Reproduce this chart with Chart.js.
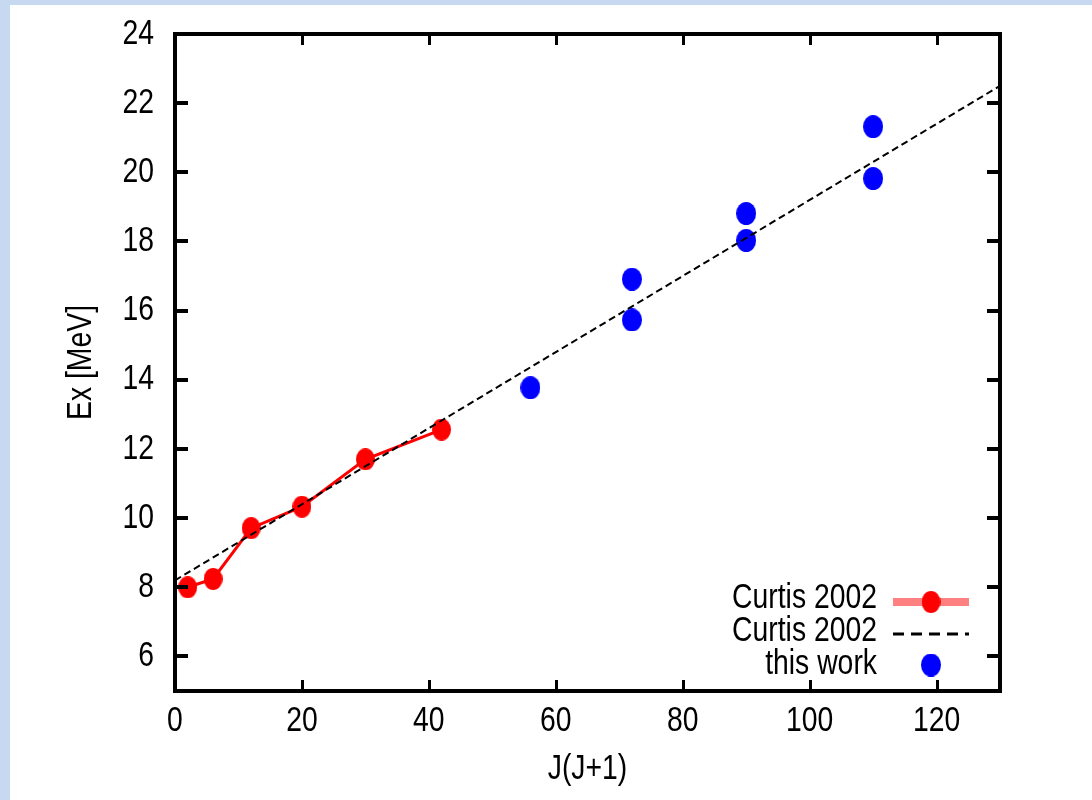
<!DOCTYPE html>
<html>
<head>
<meta charset="utf-8">
<script src="https://cdn.jsdelivr.net/npm/chart.js@4.4.1/dist/chart.umd.min.js"></script>
<style>
  html, body { margin: 0; padding: 0; background: #c6d9f1; }
  #sheet { position: absolute; left: 10px; top: 5px; width: 1082px; height: 795px; background: #ffffff; }
  #wrap { position: absolute; left: 0; top: 0; width: 1092px; height: 800px; }
</style>
</head>
<body>
<div id="sheet"></div>
<div id="wrap"><canvas id="c" width="1092" height="800"></canvas></div>
<script>
// Excitation energy vs J(J+1)
const curtisJJ = [2, 6, 12, 20, 30, 42];
const curtisEx = [8.00, 8.24, 9.71, 10.33, 11.70, 12.56];

const workJJ = [56, 72, 72, 90, 90, 110, 110];
const workEx = [13.77, 16.91, 15.73, 18.81, 18.03, 21.32, 19.82];

// linear rotational fit
const fitJJ = [0, 130];
const fitEx = [8.2, 22.5];

const xTickLabels = [0, 20, 40, 60, 80, 100, 120];
const yTickLabels = [6, 8, 10, 12, 14, 16, 18, 20, 22, 24];
const legendLabels = ['Curtis 2002', 'Curtis 2002', 'this work'];

const FONT = "'Liberation Sans', Arial, sans-serif";
const FONT_SIZE = 35;
const NARROW = 0.81; // horizontal squeeze for a narrow face

const canvas = document.getElementById('c');
const ctx2d = canvas.getContext('2d');
// draw every text run horizontally condensed around its anchor
const plainFillText = ctx2d.fillText.bind(ctx2d);
ctx2d.fillText = function (text, x, y, maxWidth) {
  this.save();
  this.translate(x, y);
  this.scale(NARROW, 1);
  if (maxWidth !== undefined) plainFillText(text, 0, 0, maxWidth / NARROW);
  else plainFillText(text, 0, 0);
  this.restore();
};

function ellipseMarker(w, h, color) {
  const c = document.createElement('canvas');
  c.width = w; c.height = h;
  const g = c.getContext('2d');
  g.fillStyle = color;
  g.beginPath();
  g.ellipse(w / 2, h / 2, w / 2, h / 2, 0, 0, Math.PI * 2);
  g.fill();
  return c;
}
const redDot = ellipseMarker(19, 22, '#ff0000');
const blueDot = ellipseMarker(20, 23, '#0000ff');

const toPoints = (xs, ys) => xs.map((x, i) => ({ x: x, y: ys[i] }));

// frame box with inward mirrored tick marks
const framePlugin = {
  id: 'frame',
  afterDatasetsDraw(chart) {
    const { ctx, chartArea: a, scales } = chart;
    ctx.save();
    ctx.strokeStyle = '#000';
    ctx.lineWidth = 4;
    ctx.strokeRect(a.left, a.top, a.right - a.left, a.bottom - a.top);
    ctx.lineWidth = 4;
    ctx.beginPath();
    yTickLabels.forEach(v => {
      const y = Math.round(scales.y.getPixelForValue(v));
      ctx.moveTo(a.left, y); ctx.lineTo(a.left + 13, y);
      ctx.moveTo(a.right, y); ctx.lineTo(a.right - 13, y);
    });
    ctx.stroke();
    ctx.lineWidth = 3;
    ctx.beginPath();
    xTickLabels.forEach(v => {
      const x = Math.round(scales.x.getPixelForValue(v)) + 0.5;
      ctx.moveTo(x, a.bottom); ctx.lineTo(x, a.bottom - 11);
      ctx.moveTo(x, a.top); ctx.lineTo(x, a.top + 11);
    });
    ctx.stroke();
    ctx.restore();
  }
};

// key in the lower right corner: text right-aligned, sample to its right
const keyPlugin = {
  id: 'key',
  afterDatasetsDraw(chart) {
    const { ctx, chartArea: a } = chart;
    const textRight = a.right - 123;
    const s0 = a.right - 107, s1 = a.right - 31, sm = a.right - 69;
    const rows = [a.bottom - 93, a.bottom - 60, a.bottom - 27];
    ctx.save();
    ctx.font = FONT_SIZE + 'px ' + FONT;
    ctx.fillStyle = '#000';
    ctx.textAlign = 'right';
    ctx.textBaseline = 'middle';
    legendLabels.forEach((t, i) => ctx.fillText(t, textRight, rows[i]));

    ctx.strokeStyle = '#ff8080';
    ctx.lineWidth = 8;
    ctx.beginPath(); ctx.moveTo(s0, rows[0] + 4); ctx.lineTo(s1, rows[0] + 4); ctx.stroke();
    ctx.drawImage(redDot, sm - redDot.width / 2, rows[0] + 4 - redDot.height / 2);

    ctx.strokeStyle = '#000';
    ctx.lineWidth = 3;
    ctx.setLineDash([11, 7]);
    ctx.beginPath(); ctx.moveTo(s0, rows[1] + 3); ctx.lineTo(s1, rows[1] + 3); ctx.stroke();
    ctx.setLineDash([]);

    ctx.drawImage(blueDot, sm - blueDot.width / 2, rows[2] + 1 - blueDot.height / 2);
    ctx.restore();
  }
};

new Chart(canvas, {
  type: 'scatter',
  data: {
    datasets: [
      {
        label: 'fit',
        data: toPoints(fitJJ, fitEx),
        showLine: true,
        borderColor: '#000000',
        borderWidth: 2,
        borderDash: [7, 4],
        pointRadius: 0,
        fill: false
      },
      {
        label: 'this work',
        data: toPoints(workJJ, workEx),
        showLine: false,
        pointStyle: blueDot,
        pointRadius: 10,
        backgroundColor: '#0000ff',
        borderColor: '#0000ff'
      },
      {
        label: 'Curtis 2002',
        data: toPoints(curtisJJ, curtisEx),
        showLine: true,
        borderColor: '#ff0000',
        borderWidth: 3,
        backgroundColor: '#ff0000',
        pointStyle: redDot,
        pointRadius: 10,
        fill: false
      }
    ]
  },
  options: {
    responsive: false,
    animation: false,
    events: [],
    layout: { padding: { left: 0, top: 32, right: 92, bottom: 0 } },
    plugins: { legend: { display: false }, tooltip: { enabled: false } },
    scales: {
      x: {
        type: 'linear',
        min: 0, max: 130,
        grid: { display: false },
        border: { display: false },
        afterBuildTicks: s => { s.ticks = xTickLabels.map(v => ({ value: v })); },
        afterFit: s => { s.height = 109; },
        ticks: { color: '#000', padding: 1, maxRotation: 0, autoSkip: false, font: { family: FONT, size: FONT_SIZE } },
        title: { display: true, text: 'J(J+1)', color: '#000', padding: { top: 0, bottom: 10 }, font: { family: FONT, size: FONT_SIZE } }
      },
      y: {
        type: 'linear',
        min: 5, max: 24,
        grid: { display: false },
        border: { display: false },
        afterBuildTicks: s => { s.ticks = yTickLabels.map(v => ({ value: v })); },
        afterFit: s => { s.width = 175; },
        ticks: { color: '#000', padding: 13, autoSkip: false, font: { family: FONT, size: FONT_SIZE } },
        title: { display: true, text: 'Ex [MeV]', color: '#000', padding: { top: 60, bottom: 0 }, font: { family: FONT, size: FONT_SIZE } }
      }
    }
  },
  plugins: [framePlugin, keyPlugin]
});
</script>
</body>
</html>
